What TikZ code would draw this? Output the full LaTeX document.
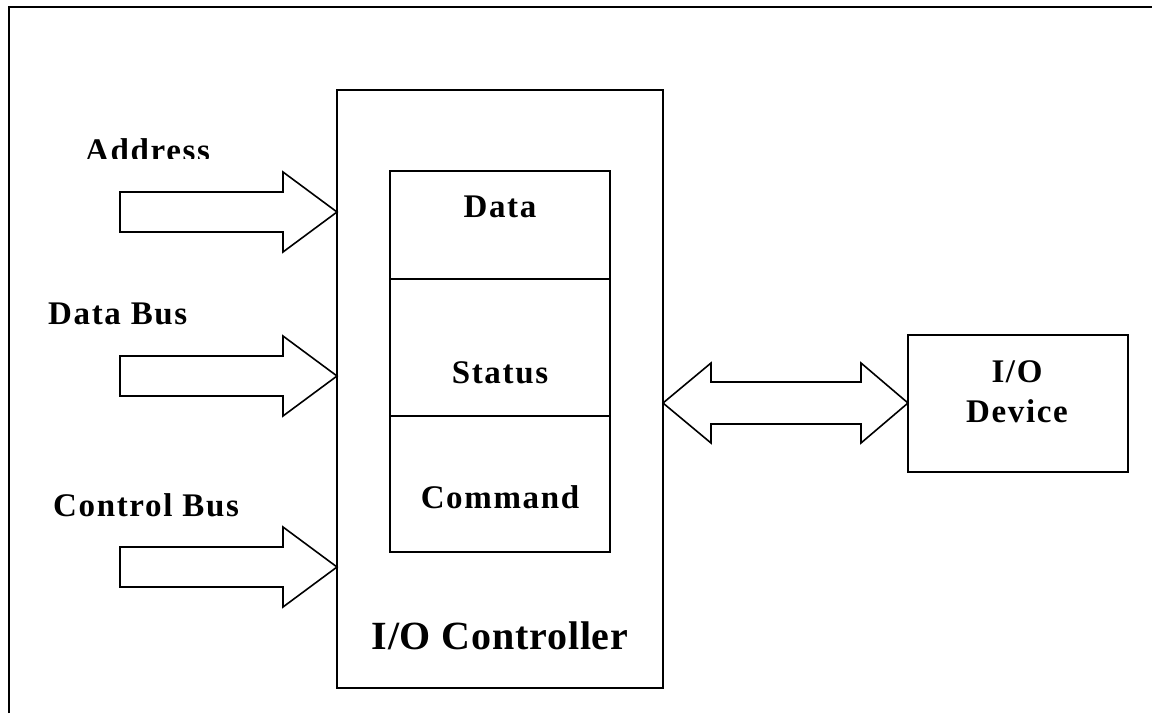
\documentclass[tikz,border=0pt]{standalone}
\usepackage{fontspec}
\newfontfamily\lbl{Liberation Serif}[LetterSpace=5]
\newfontfamily\lblc{Liberation Serif}[LetterSpace=2]
\usetikzlibrary{calc}
\tikzset{
  box/.style={draw, line width=1.6pt, inner sep=0pt, outer sep=0pt, anchor=north west},
  txt/.style={inner sep=0pt, font=\lbl\bfseries\fontsize{33}{36}\selectfont},
  bigtxt/.style={inner sep=0pt, font=\lblc\bfseries\fontsize{40}{44}\selectfont},
  blockarrow/.style={draw, line width=1.6pt, fill=white, line join=miter}
}
\begin{document}
\begin{tikzpicture}[x=1pt,y=-1pt]
\useasboundingbox (0,0) rectangle (1152,713);
% frame
\draw[line width=1.6pt] (9,713) -- (9,7) -- (1152,7);

% controller
\node[box, minimum width=326pt, minimum height=598pt] (ctrl) at (337,90) {};
\node[box, minimum width=220pt, minimum height=108pt] (data) at (390,171) {};
\node[box, minimum width=220pt, minimum height=137pt] (status) at (390,279) {};
\node[box, minimum width=220pt, minimum height=136pt] (command) at (390,416) {};
\node[txt, anchor=base] (tdata) at (500,217) {Data};
\node[txt, anchor=base] (tstatus) at (500,383) {Status};
\node[txt, anchor=base] (tcommand) at (500,508) {Command};
\node[bigtxt, anchor=base] (tctrl) at (500,649) {I/O Controller};

% device
\node[box, minimum width=220pt, minimum height=137pt] (device) at (908,335) {};
\node[txt, anchor=base] (tio) at (1017,382) {I/O};
\node[txt, anchor=base] (tdev) at (1017,422) {Device};

% input labels
\begin{scope}
  \clip (0,0) rectangle (300,158);
  \node[txt, anchor=base west] (laddr) at (85,161) {Address};
\end{scope}
\node[txt, anchor=base west] (ldata) at (48,324) {Data Bus};
\node[txt, anchor=base west] (lctrl) at (53,516) {Control Bus};

% arrow tips on controller border
\coordinate (t1) at (337,212);
\coordinate (t2) at (337,376);
\coordinate (t3) at (337,567);
\foreach \t in {t1,t2,t3}{
  \draw[blockarrow] ($(\t)+(-217,-20)$) -- ($(\t)+(-54,-20)$) -- ($(\t)+(-54,-40)$)
     -- (\t) -- ($(\t)+(-54,40)$) -- ($(\t)+(-54,20)$) -- ($(\t)+(-217,20)$) -- cycle;
}

% double arrow controller <-> device
\coordinate (dl) at (ctrl.east |- 0,403);
\coordinate (dr) at (device.west |- 0,403);
\draw[blockarrow] (dl) -- ($(dl)+(48,-40)$) -- ($(dl)+(48,-21)$) -- ($(dr)+(-47,-21)$)
   -- ($(dr)+(-47,-40)$) -- (dr) -- ($(dr)+(-47,40)$) -- ($(dr)+(-47,21)$)
   -- ($(dl)+(48,21)$) -- ($(dl)+(48,40)$) -- cycle;
\end{tikzpicture}
\end{document}
